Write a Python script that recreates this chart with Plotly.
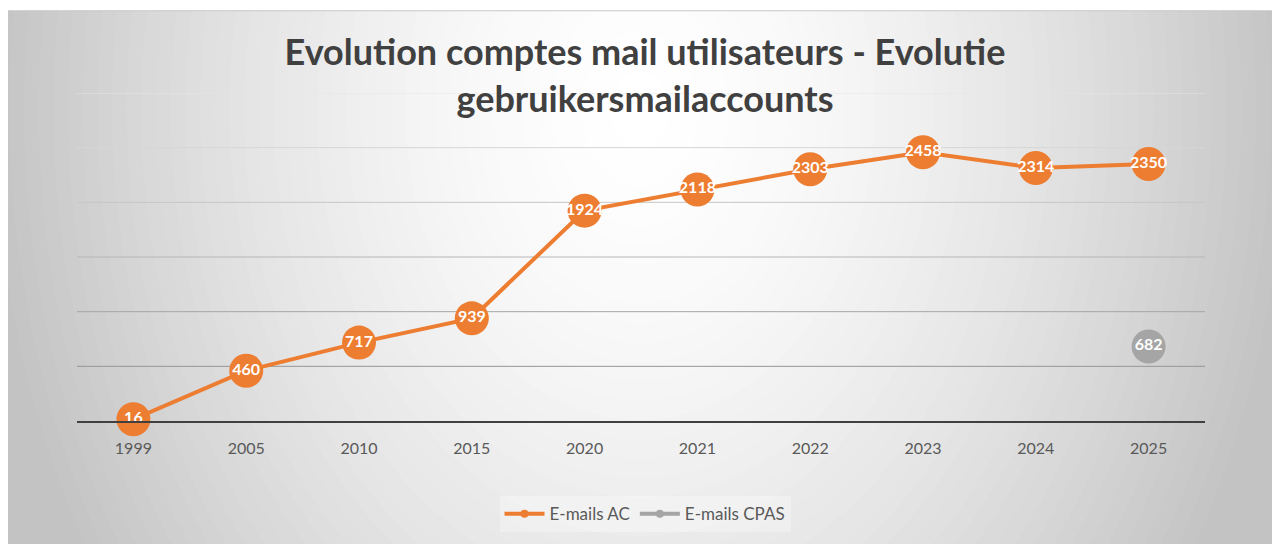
import plotly.graph_objects as go

years = ["1999", "2005", "2010", "2015", "2020", "2021", "2022", "2023", "2024", "2025"]
mails_ac = [16, 460, 717, 939, 1924, 2118, 2303, 2458, 2314, 2350]
mails_cpas = [None, None, None, None, None, None, None, None, None, 682]
grid_values = [500, 1000, 1500, 2000, 2500, 3000]

ORANGE = "#ED7D31"
GREY = "#A5A5A5"
OFF = 8  # the page body margin shifts the figure by this much
W, H = 1280 - OFF, 544 - OFF
L, R, T, B = 69, 75, 85, 120
PW, PH = W - L - R, H - T - B


def px(x):
    # screen x -> paper x
    return (x - OFF - L) / PW


def py(y):
    # screen y -> paper y
    return (H - B - (y - OFF)) / PH


def gray(v):
    v = int(round(max(0, min(255, v))))
    return f"rgb({v},{v},{v})"


# radial-ish background of the chart box, built from stacked ellipses
shapes = [dict(type="rect", xref="paper", yref="paper", layer="below",
               x0=px(0), x1=px(1290), y0=py(10), y1=py(560),
               fillcolor=gray(195), line_width=0)]
cx, cy, rx, ry = 640, 110, 660, 880
steps = 45
for i in range(steps):
    r = 1 - i / steps
    shapes.append(dict(type="circle", xref="paper", yref="paper", layer="below",
                       x0=px(cx - r * rx), x1=px(cx + r * rx),
                       y0=py(cy + r * ry), y1=py(cy - r * ry),
                       fillcolor=gray(255 - 60 * r ** 1.6), line_width=0))
shapes += [
    dict(type="rect", xref="paper", yref="paper", layer="below",
         x0=px(-50), x1=px(1330), y0=py(10), y1=py(-200),
         fillcolor="white", line_width=0),
    dict(type="line", xref="paper", yref="paper", layer="below",
         x0=px(6), x1=px(1290), y0=py(10), y1=py(10),
         line=dict(color="#c8c8c8", width=1)),
]

# gridlines, darker towards the bottom like the original
for k, v in enumerate(grid_values):
    t = k / (len(grid_values) - 1)
    shapes.append(dict(type="line", xref="paper", yref="y", layer="below",
                       x0=0, x1=1, y0=v, y1=v,
                       line=dict(color=gray(150 + 80 * t), width=1)))

fig = go.Figure()
label_font = dict(family="Lato", size=16, color="white", weight="bold")

fig.add_trace(go.Scatter(
    x=years, y=mails_ac, mode="lines+markers+text", name="E-mails AC",
    text=[str(v) for v in mails_ac], textposition="middle center",
    textfont=label_font, showlegend=False, cliponaxis=False,
    line=dict(color=ORANGE, width=4),
    marker=dict(color=ORANGE, size=34),
))
fig.add_trace(go.Scatter(
    x=years, y=mails_cpas, mode="lines+markers+text", name="E-mails CPAS",
    text=["" if v is None else str(v) for v in mails_cpas],
    textposition="middle center", textfont=label_font,
    showlegend=False, cliponaxis=False,
    line=dict(color=GREY, width=4),
    marker=dict(color=GREY, size=34),
))
# small legend entries
for name, color in [("E-mails AC", ORANGE), ("E-mails CPAS", GREY)]:
    fig.add_trace(go.Scatter(
        x=[None], y=[None], mode="lines+markers", name=name,
        line=dict(color=color, width=4), marker=dict(color=color, size=8),
    ))

fig.update_layout(
    width=W, height=H,
    margin=dict(l=L, r=R, t=T, b=B),
    paper_bgcolor="white",
    plot_bgcolor="rgba(0,0,0,0)",
    shapes=shapes,
    font=dict(family="Lato", color="#595959", size=16),
    title=dict(
        text="Evolution comptes mail utilisateurs - Evolutie<br>gebruikersmailaccounts",
        font=dict(family="Lato", size=36, color="#404040", weight="bold"),
        x=px(645), xref="paper", xanchor="center",
        y=1 - 57 / H, yref="container", yanchor="middle",
    ),
    legend=dict(
        orientation="h", x=px(645), xanchor="center",
        y=py(518), yanchor="middle",
        bgcolor="rgba(255,255,255,0.3)",
        font=dict(family="Lato", size=17, color="#595959"),
        itemwidth=40,
    ),
    showlegend=True,
)
fig.update_xaxes(
    type="category", range=[-0.5, len(years) - 0.5],
    showgrid=False, showline=True, linecolor="#404040", linewidth=2,
    ticks="", ticklabelstandoff=12,
    tickfont=dict(family="Lato", size=16, color="#595959"),
    zeroline=False,
)
fig.update_yaxes(
    range=[0, 3000], showgrid=False, showticklabels=False,
    zeroline=False, showline=False,
)

fig.write_html("out.html")
